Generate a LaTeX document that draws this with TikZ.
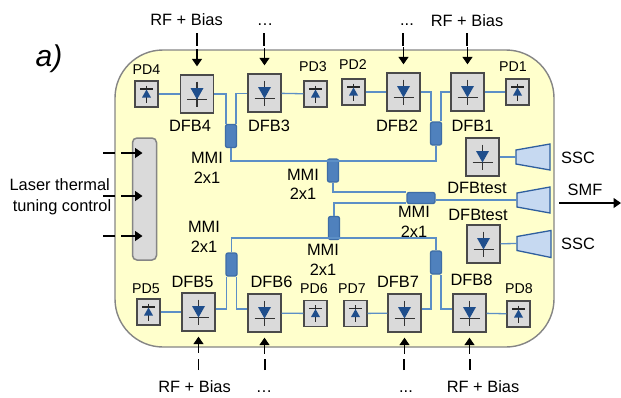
\documentclass[tikz,border=0pt]{standalone}
\usepackage{fontspec}
\setmainfont{Liberation Sans}
\usetikzlibrary{arrows.meta}
\definecolor{chipfill}{HTML}{FFFFCC}
\definecolor{chipline}{HTML}{858585}
\definecolor{boxfill}{HTML}{DADADA}
\definecolor{boxline}{HTML}{4A4A4A}
\definecolor{wgcol}{HTML}{5C8FC6}
\definecolor{mmifill}{HTML}{4F81BD}
\definecolor{mmiline}{HTML}{3E6DA6}
\definecolor{taperfill}{HTML}{C6D9F1}
\definecolor{taperline}{HTML}{2F5F9F}
\definecolor{diode}{HTML}{1F4E8C}
\tikzset{
  x=1pt,y=-1pt,
  chip/.style={draw=chipline,fill=chipfill,line width=1.4pt,rounded corners=48pt},
  ctrlbar/.style={draw=chipline,fill=boxfill,line width=1.5pt,rounded corners=4.5pt,minimum width=24pt,minimum height=122pt,inner sep=0},
  dfbbox/.style={draw=boxline,fill=boxfill,line width=1.3pt,minimum width=33pt,minimum height=38pt,inner sep=0},
  pdbox/.style={draw=boxline,fill=boxfill,line width=1.3pt,minimum width=23pt,minimum height=26pt,inner sep=0},
  mmiv/.style={draw=mmiline,fill=mmifill,line width=1.3pt,rounded corners=2pt,minimum width=11pt,minimum height=23pt,inner sep=0},
  mmih/.style={draw=mmiline,fill=mmifill,line width=1.3pt,rounded corners=2pt,minimum width=28pt,minimum height=11pt,inner sep=0},
  wg/.style={draw=wgcol,line width=1.3pt},
  taper/.style={draw=taperline,fill=taperfill,line width=1.3pt,line join=miter},
  sig/.style={draw=black,line width=1.3pt},
  sigarr/.style={draw=black,line width=1.3pt,-{Triangle[length=7.5pt,width=10pt]}},
  lab/.style={anchor=base,inner sep=0,font=\fontsize{16.4}{18}\selectfont},
  pdlab/.style={anchor=base,inner sep=0,font=\fontsize{14.2}{16}\selectfont},
}
\newcommand{\dfbsym}[1]{%
  \draw[black!80,line width=1.1pt] ([shift={(0pt,12.5pt)}]#1.center) -- ([shift={(0pt,-12.5pt)}]#1.center);
  \draw[black!80,line width=1.1pt] ([shift={(-10pt,-5.5pt)}]#1.center) -- ([shift={(10pt,-5.5pt)}]#1.center);
  \fill[diode] ([shift={(-6.5pt,6pt)}]#1.center) -- ([shift={(6.5pt,6pt)}]#1.center) -- ([shift={(0pt,-5.5pt)}]#1.center) -- cycle;
}
\newcommand{\pdsym}[1]{%
  \draw[black!85,line width=1.1pt] ([shift={(0pt,8.5pt)}]#1.center) -- ([shift={(0pt,-8.5pt)}]#1.center);
  \draw[black!85,line width=1.1pt] ([shift={(-6.5pt,5pt)}]#1.center) -- ([shift={(6.5pt,5pt)}]#1.center);
  \fill[diode] ([shift={(-4.5pt,-3.5pt)}]#1.center) -- ([shift={(4.5pt,-3.5pt)}]#1.center) -- ([shift={(0pt,4.5pt)}]#1.center) -- cycle;
}
\begin{document}
\begin{tikzpicture}
\useasboundingbox (0,0) rectangle (621,397);
% chip
\draw[chip] (115,50) rectangle (554,347);
\node[ctrlbar] (ctrl) at (144.5,199) {};
% tapers
\coordinate (ssca) at (516,157);
\coordinate (smf) at (517,200);
\coordinate (sscb) at (517,243.5);
\draw[taper] (ssca) ++(0,-7) -- ++(34,-6) -- ++(0,26) -- ++(-34,-6) -- cycle;
\draw[taper] (smf) ++(0,-7) -- ++(33,-6) -- ++(0,26) -- ++(-33,-6) -- cycle;
\draw[taper] (sscb) ++(0,-7) -- ++(34,-6) -- ++(0,27) -- ++(-34,-7) -- cycle;
% DFB blocks
\node[dfbbox] (dfb4) at (197,94) {};
\node[dfbbox] (dfb3) at (264.5,93) {};
\node[dfbbox] (dfb2) at (403.5,92) {};
\node[dfbbox] (dfb1) at (467.5,92) {};
\node[dfbbox] (test1) at (482.5,157) {};
\node[dfbbox] (test2) at (483.5,244) {};
\node[dfbbox] (dfb5) at (198.5,312) {};
\node[dfbbox] (dfb6) at (264.5,313) {};
\node[dfbbox] (dfb7) at (404.5,313) {};
\node[dfbbox] (dfb8) at (469.5,313) {};
% PD blocks
\node[pdbox] (pd4) at (146.5,94) {};
\node[pdbox] (pd3) at (315.5,94) {};
\node[pdbox] (pd2) at (353.5,92) {};
\node[pdbox] (pd1) at (517.5,92) {};
\node[pdbox] (pd5) at (148.5,312) {};
\node[pdbox] (pd6) at (315.5,313.5) {};
\node[pdbox] (pd7) at (355.5,313.5) {};
\node[pdbox] (pd8) at (518.5,314) {};
% MMIs
\node[mmiv] (m1) at (231,136) {};
\node[mmiv] (m4) at (436,133.5) {};
\node[mmiv] (m2) at (333,170.5) {};
\node[mmih] (m3) at (421,198) {};
\node[mmiv] (m6) at (334,228) {};
\node[mmiv] (m5) at (231.5,264.5) {};
\node[mmiv] (m7) at (436,262.5) {};
% waveguides
\coordinate (j1) at (333,161);
\coordinate (j2) at (333,238);
\draw[wg] (pd4) -- (dfb4);
\draw[wg] (dfb3) -- (pd3);
\draw[wg] (pd2) -- (dfb2);
\draw[wg] (dfb1) -- (pd1);
\draw[wg] (pd5) -- (dfb5);
\draw[wg] (dfb6) -- (pd6);
\draw[wg] (pd7) -- (dfb7);
\draw[wg] (dfb8) -- (pd8);
\draw[wg] (dfb4.east) -| ([xshift=-5pt]m1.north);
\draw[wg] ([yshift=-0.5pt]dfb3.west) -| ([xshift=5pt]m1.north);
\draw[wg] (dfb2.east) -| ([xshift=-5pt]m4.north);
\draw[wg] (dfb1.west) -| ([xshift=5pt]m4.north);
\draw[wg] (m1.south) |- (j1) -| (m4.south);
\draw[wg] (m2.south) |- ([yshift=6pt]m3.west);
\draw[wg] (m6.north) |- ([yshift=-5pt]m3.west);
\draw[wg] ([yshift=-2pt]m3.east) -- (smf);
\draw[wg] (m5.north) |- (j2) -| (m7.north);
\draw[wg] ([yshift=3pt]dfb5.east) -| ([xshift=-5pt]m5.south);
\draw[wg] ([yshift=4pt]dfb6.west) -| ([xshift=5pt]m5.south);
\draw[wg] ([yshift=4pt]dfb7.east) -| ([xshift=-5pt]m7.south);
\draw[wg] ([yshift=4pt]dfb8.west) -| ([xshift=5pt]m7.south);
\draw[wg] (test1) -- (ssca);
\draw[wg] (test2) -- (sscb);
% symbols
\dfbsym{dfb4}\dfbsym{dfb3}\dfbsym{dfb2}\dfbsym{dfb1}\dfbsym{test1}\dfbsym{test2}
\dfbsym{dfb5}\dfbsym{dfb6}\dfbsym{dfb7}\dfbsym{dfb8}
\pdsym{pd4}\pdsym{pd3}\pdsym{pd2}\pdsym{pd1}\pdsym{pd5}\pdsym{pd6}\pdsym{pd7}\pdsym{pd8}
% RF arrows, top
\foreach \n/\x in {dfb4/197,dfb3/264,dfb2/403,dfb1/467}{
  \coordinate (s\n) at (\x,33);
  \draw[sig] (s\n) -- ++(0,13);
  \draw[sigarr] ([yshift=25pt]\n.north) -- ([yshift=8pt]\n.north);
}
% RF arrows, bottom
\foreach \n/\x in {dfb5/198.5,dfb6/265,dfb7/404,dfb8/470}{
  \coordinate (s\n) at (\x,370);
  \draw[sig] (s\n) -- ++(0,-11);
  \draw[sigarr] ([yshift=-21pt]\n.south) -- ([yshift=-5pt]\n.south);
}
% control arrows
\foreach \k/\y in {a/153,b/196,c/236}{
  \coordinate (c\k) at (103,\y);
  \draw[sig] (c\k) -- ++(12,0);
  \draw[sigarr] (121,\y) -- (142.5,\y);
}
% SMF output
\coordinate (out0) at (559,203);
\coordinate (out1) at (621,203);
\draw[sigarr] (out0) -- (out1);
% labels
\node[lab,font=\fontsize{30}{32}\selectfont\itshape] (la) at (49,66) {a)};
\node[lab] (l1) at (186.5,25) {RF + Bias};
\node[lab] (l2) at (265,25) {…};
\node[lab] (l3) at (407,25) {...};
\node[lab] (l4) at (467,26.5) {RF + Bias};
\node[lab] (l5) at (194.5,392) {RF + Bias};
\node[lab] (l6) at (264,392.5) {…};
\node[lab] (l7) at (406,392.5) {...};
\node[lab] (l8) at (483,392) {RF + Bias};
\node[lab] (d4) at (190,131.5) {DFB4};
\node[lab] (d3) at (269,131.5) {DFB3};
\node[lab] (d2) at (397,131) {DFB2};
\node[lab] (d1) at (472.5,131) {DFB1};
\node[lab] (t1) at (477,193) {DFBtest};
\node[lab] (t2) at (478,220) {DFBtest};
\node[lab] (d5) at (192.5,287) {DFB5};
\node[lab] (d6) at (271.5,287) {DFB6};
\node[lab] (d7) at (398,287.5) {DFB7};
\node[lab] (d8) at (471.5,285) {DFB8};
\node[lab] (s1) at (578,163) {SSC};
\node[lab] (s2) at (585,195) {SMF};
\node[lab] (s3) at (578,249) {SSC};
\node[lab] (ma1) at (207,163) {MMI};
\node[lab] (ma2) at (207,183) {2x1};
\node[lab] (mb1) at (303,180) {MMI};
\node[lab] (mb2) at (303,199.5) {2x1};
\node[lab] (mc1) at (414,217.5) {MMI};
\node[lab] (mc2) at (414,237.5) {2x1};
\node[lab] (md1) at (323,255) {MMI};
\node[lab] (md2) at (323,275) {2x1};
\node[lab] (me1) at (204,232) {MMI};
\node[lab] (me2) at (204,252) {2x1};
\node[lab] (tc1) at (59.7,190.5) {Laser thermal};
\node[lab] (tc2) at (62,211) {tuning control};
\node[pdlab] (p4) at (146.5,74) {PD4};
\node[pdlab] (p3) at (313,71) {PD3};
\node[pdlab] (p2) at (353,69.5) {PD2};
\node[pdlab] (p1) at (513,71.5) {PD1};
\node[pdlab] (p5) at (146,293.5) {PD5};
\node[pdlab] (p6) at (314,293.5) {PD6};
\node[pdlab] (p7) at (352,293.5) {PD7};
\node[pdlab] (p8) at (519,293.5) {PD8};
\end{tikzpicture}
\end{document}
